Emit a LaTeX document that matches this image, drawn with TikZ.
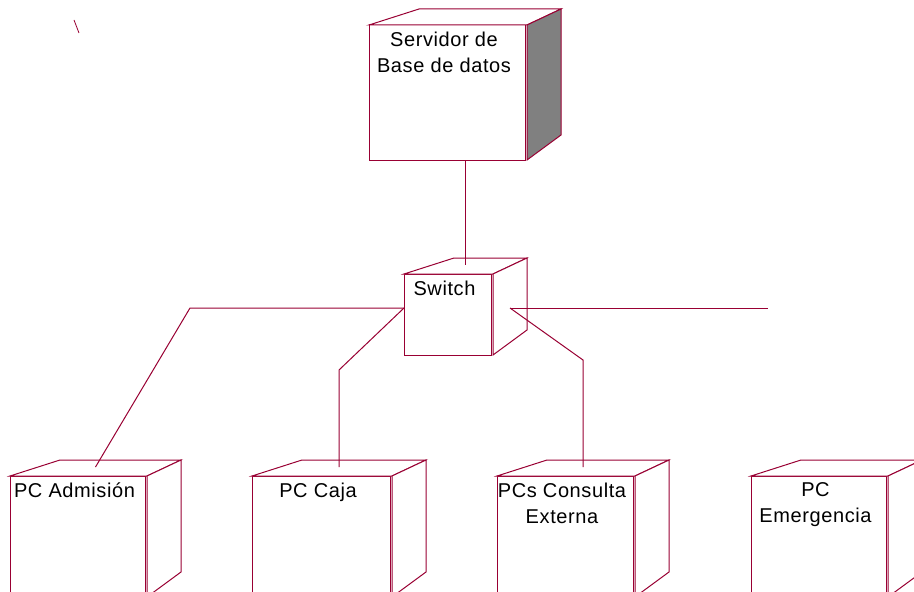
\documentclass[tikz,border=0pt]{standalone}
\usepackage{fontspec}
\setmainfont{Liberation Sans}[LetterSpace=3]
\usetikzlibrary{calc}
\definecolor{rose}{HTML}{990033}
\definecolor{srvgray}{HTML}{808080}

\tikzset{
 front/.style={draw=rose,fill=white,line width=0.75pt,inner sep=0pt,outer sep=0pt,anchor=north west},
 face/.style={draw=rose,line width=0.75pt},
 tag/.style={font=\fontsize{15}{19.5}\selectfont,align=center,anchor=north,inner sep=0pt},
 wire/.style={draw=rose,line width=0.75pt}
}

% device box: name, left x, top y, width, height, side fill
\newcommand\devbox[6]{%
 \node[front,minimum width={#4*0.75pt},minimum height={#5*0.75pt}] (#1) at (#2,#3) {};
 \draw[face,fill=white] (#1.north west) -- ++(50,-16) -- ($(#1.north east)+(36,-16)$) -- ($(#1.north east)+(2,0)$) -- cycle;
 \draw[face,fill=#6] ($(#1.north east)+(2,0)$) -- ++(34,-16) -- ++(0,#5-9) -- ($(#1.south east)+(2,0)$) -- cycle;
 \coordinate (#1-top) at ($(#1.north west)+({(#4+36)/2},-9)$);
}

\begin{document}
\begin{tikzpicture}[x=0.75pt,y=-0.75pt]
 \clip (0,0) rectangle (914,592);
 \fill[white] (0,0) rectangle (914,592);
 \draw[rose,line width=0.6pt] (74,20) -- (79,33);
 % server and switch
 \devbox{srv}{369}{25}{156}{135}{srvgray}
 \node[tag] (srv-txt) at ($(srv.north)+(-3,6.5)$) {Servidor de\\Base de datos};
 \devbox{sw}{404}{274}{87}{81}{white}
 \node[tag] (sw-txt) at ($(sw.north)+(-3,6.5)$) {Switch};
 % workstations
 \foreach \n/\x/\w/\t in {adm/10/135/{PC Admisión},caja/252/138/{PC Caja},
   cons/497/136/{PCs Consulta\\Externa},emer/751/135/{PC\\Emergencia}}{
  \devbox{\n}{\x}{476}{\w}{121}{white}
  \node[tag] (\n-txt) at ($(\n.north)+(-3,6.5)$) {\t};
 }
 % links
 \coordinate (swl) at ($(sw.north west)+(0,34)$);
 \coordinate (swr) at ($(sw.north west)+(106,34)$);
 \coordinate (loose) at (768,308);
 \draw[wire] (sw-top |- srv.south) -- (sw-top);
 \draw[wire] (swl) -- (190,308) -- (adm-top);
 \draw[wire] (swl) -- (caja-top |- 0,370) -- (caja-top);
 \draw[wire] (swr) -- (cons-top |- 0,360) -- (cons-top);
 \draw[wire] (swr) -- (loose);
\end{tikzpicture}
\end{document}
